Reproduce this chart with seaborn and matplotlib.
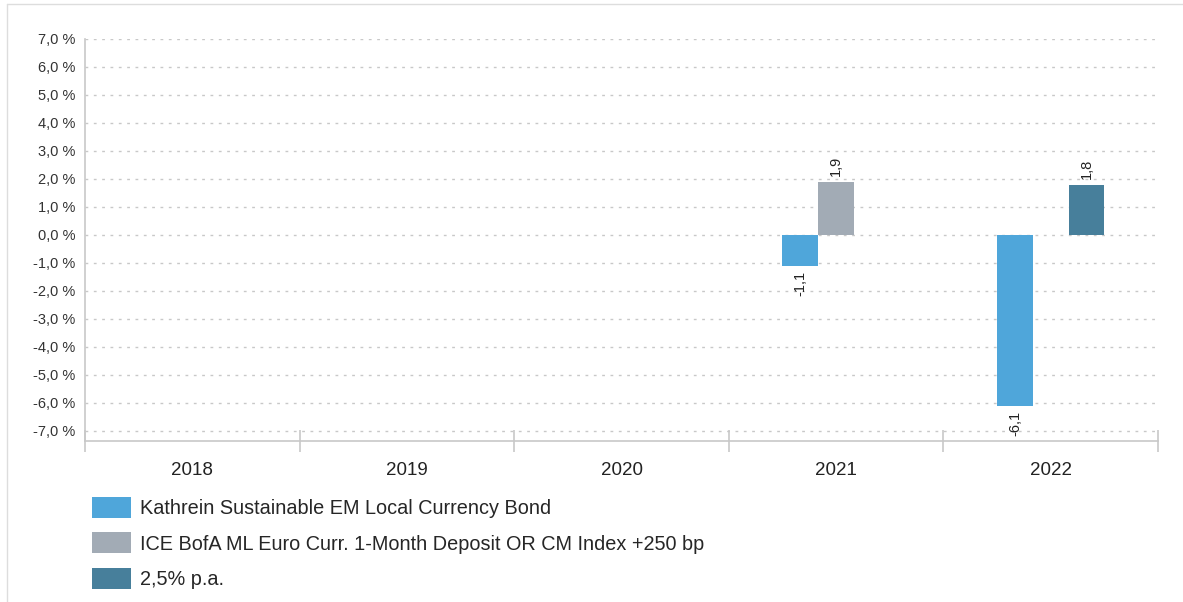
import matplotlib
matplotlib.use("Agg")
import matplotlib.pyplot as plt
import matplotlib.patches as mpatches
import matplotlib.lines as mlines
import seaborn as sns
import numpy as np
import pandas as pd

# data
years = ["2018", "2019", "2020", "2021", "2022"]
series = ["Kathrein Sustainable EM Local Currency Bond",
          "ICE BofA ML Euro Curr. 1-Month Deposit OR CM Index +250 bp",
          "2,5% p.a."]
fund = [np.nan, np.nan, np.nan, -1.1, -6.1]
bench = [np.nan, np.nan, np.nan, 1.9, np.nan]
target = [np.nan, np.nan, np.nan, np.nan, 1.8]
colors = ["#4FA6DA", "#A2ABB5", "#477F9B"]
y_ticks = [7, 6, 5, 4, 3, 2, 1, 0, -1, -2, -3, -4, -5, -6, -7]

df = pd.DataFrame({
    "year": years * 3,
    "series": [series[0]] * 5 + [series[1]] * 5 + [series[2]] * 5,
    "value": fund + bench + target,
})

sns.set_style("white")
plt.rcParams["font.family"] = ["Liberation Sans", "DejaVu Sans"]

fig = plt.figure(figsize=(11.83, 6.02), dpi=100)
ax = fig.add_axes([85 / 1183, 1 - 441 / 602, (1158 - 85) / 1183, (441 - 39) / 602])

sns.barplot(data=df, x="year", y="value", hue="series", order=years,
            hue_order=series, palette=colors, width=0.5, gap=0,
            errorbar=None, legend=False, ax=ax, linewidth=0, saturation=1)

# value labels, rotated like the original
for cont in ax.containers:
    labs = []
    for v in cont.datavalues:
        labs.append("" if np.isnan(v) else f"{v:.1f}".replace(".", ","))
    ax.bar_label(cont, labels=labs, rotation=90, padding=4, fontsize=10.5,
                 color="#222222")

ax.set_ylim(-7.36, 7.0)
ax.set_xlim(-0.5, 4.5)
ax.set_yticks(y_ticks)
ax.set_yticklabels([f"{t:.1f} %".replace(".", ",") for t in y_ticks],
                   fontsize=10.5, color="#333333")
ax.yaxis.grid(True, linestyle=(0, (2, 4)), color="#C8C8C8", linewidth=1)
ax.tick_params(axis="y", length=0, pad=7)
ax.set_xlabel("")
ax.set_ylabel("")
ax.tick_params(axis="x", which="major", length=0, labelsize=13.5,
               labelcolor="#222222", pad=15)
ax.set_xticks(np.arange(-0.5, 4.6, 1), minor=True)
ax.tick_params(axis="x", which="minor", bottom=True, direction="inout",
               length=16, color="#C8C8C8", width=1.2)

for s in ["top", "right"]:
    ax.spines[s].set_visible(False)
for s in ["left", "bottom"]:
    ax.spines[s].set_color("#C8C8C8")
    ax.spines[s].set_linewidth(1.2)

handles = [mpatches.Patch(facecolor=c, edgecolor="none") for c in colors]
fig.legend(handles, series, loc="upper left",
           bbox_to_anchor=(84 / 1183, 1 - 489 / 602), frameon=False,
           fontsize=14.3, handlelength=1.96, handleheight=1.25,
           handletextpad=0.45, labelspacing=0.72, borderaxespad=0)

# thin frame lines at top and left of the image
fig.add_artist(mlines.Line2D([7 / 1183, 1], [1 - 4 / 602, 1 - 4 / 602],
                             transform=fig.transFigure, color="#DDDDDD", lw=1))
fig.add_artist(mlines.Line2D([7 / 1183, 7 / 1183], [0, 1 - 4 / 602],
                             transform=fig.transFigure, color="#DDDDDD", lw=1))

fig.savefig("out.png", dpi=100)
